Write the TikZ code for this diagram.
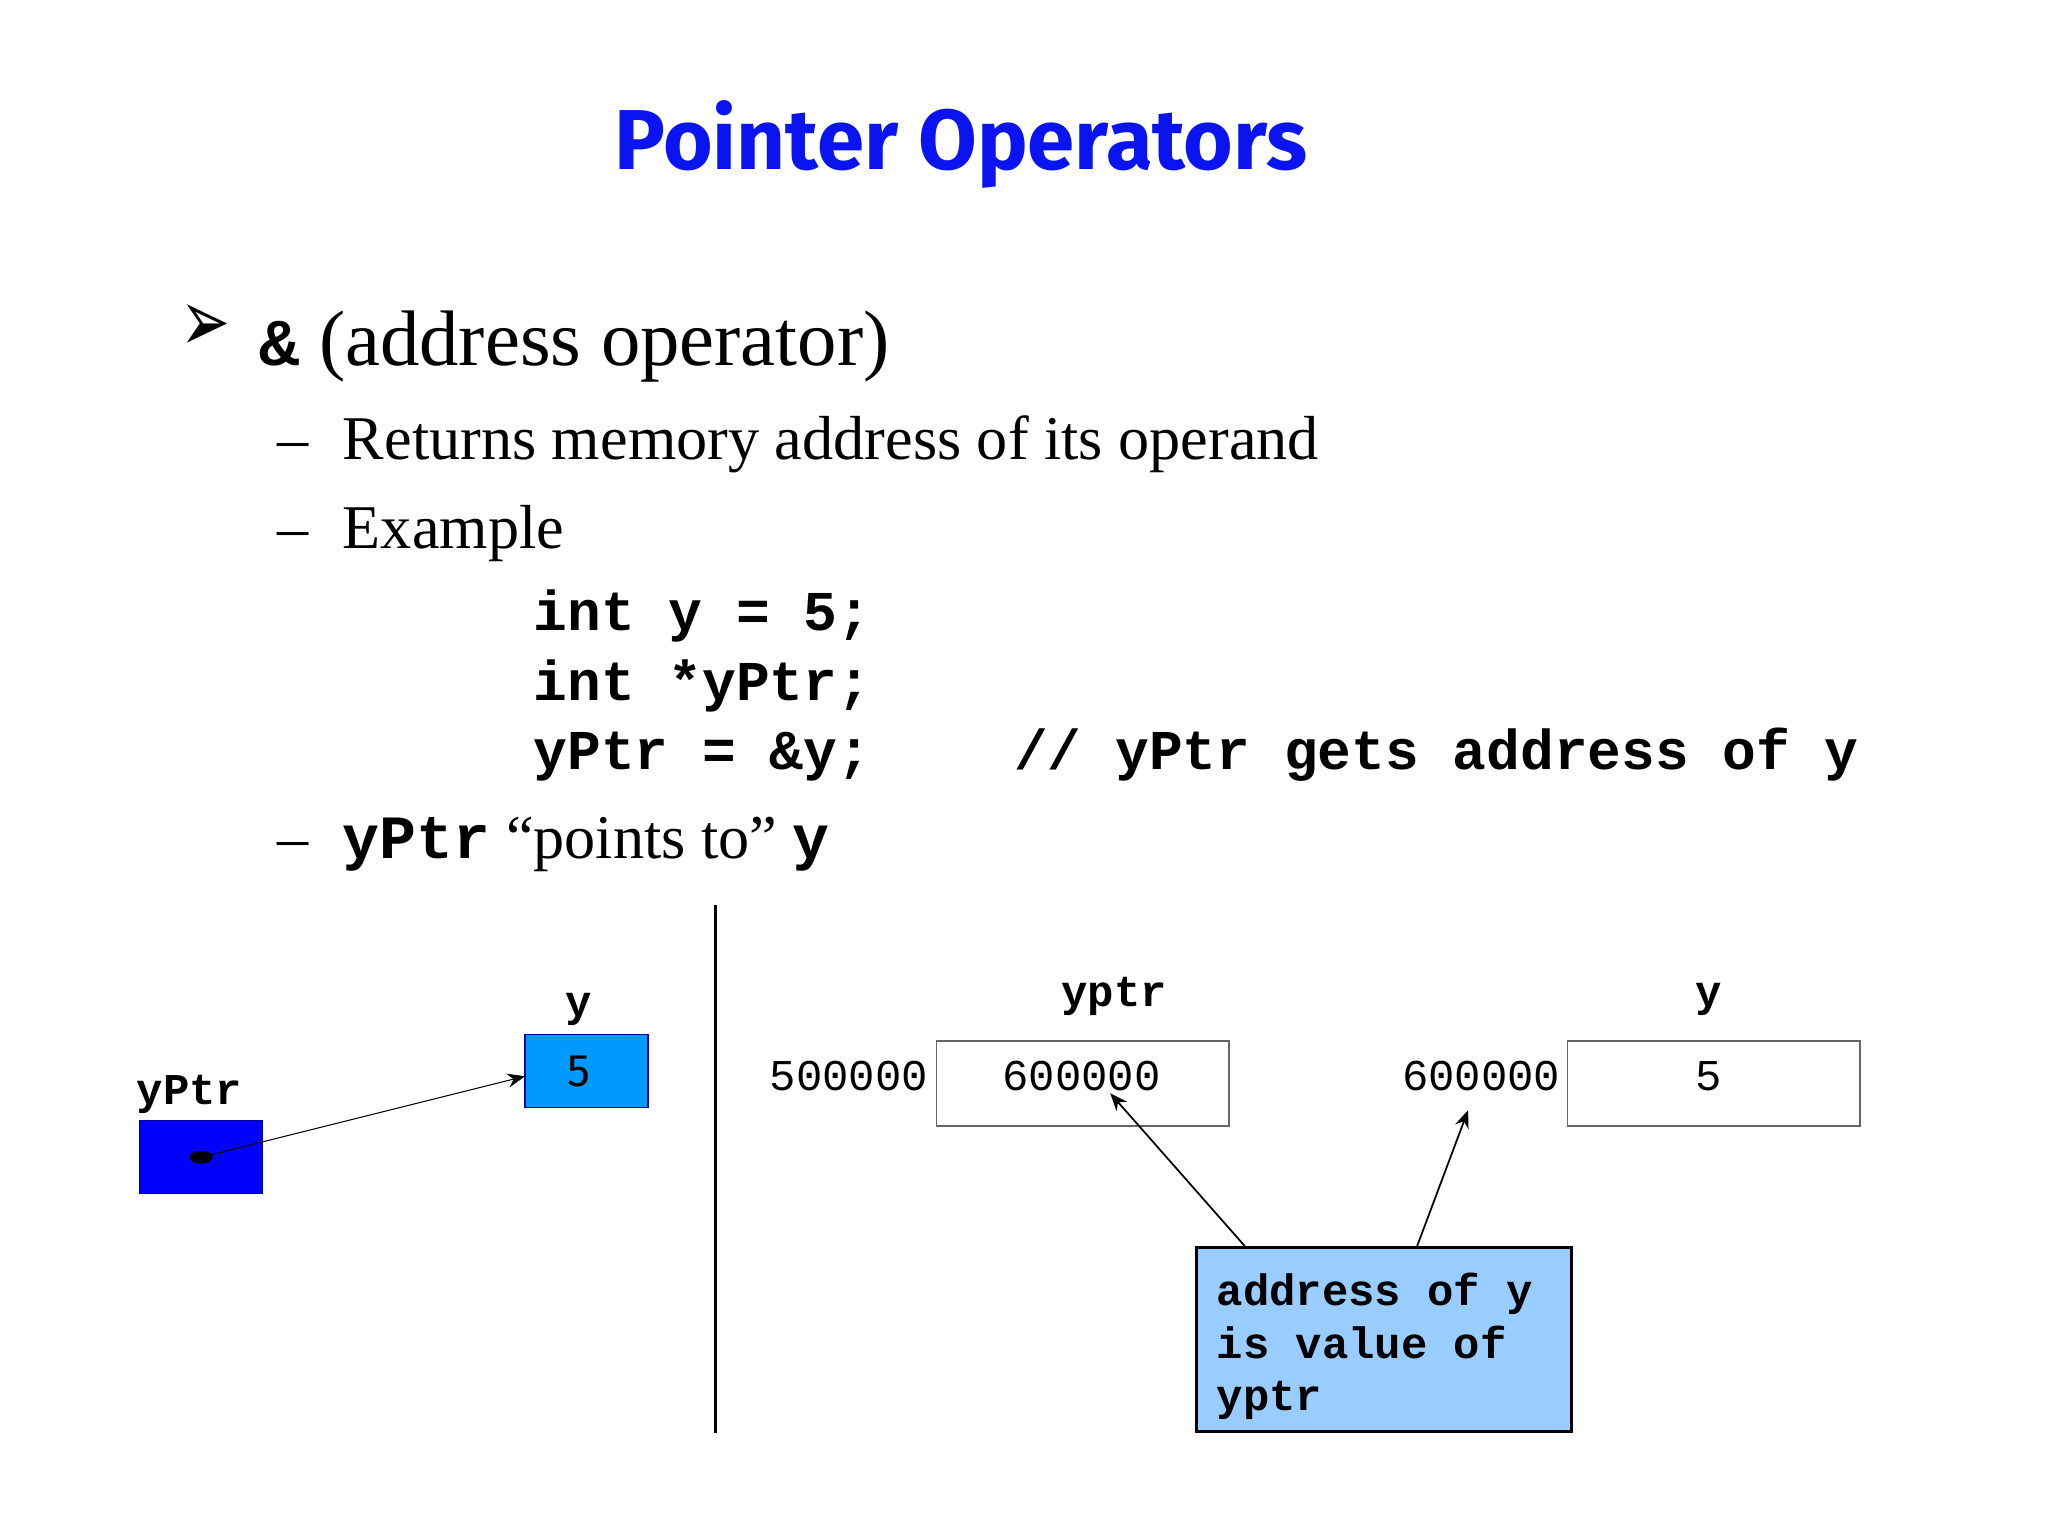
\documentclass[tikz,border=0pt]{standalone}
\usepackage{fontspec}
\setmainfont{Liberation Serif}
\newfontfamily\mono{Liberation Mono}
\newfontfamily\ttl{Fira Sans}
\newfontfamily\dv{DejaVu Sans}
\usetikzlibrary{arrows.meta}
\definecolor{ttlblue}{RGB}{10,20,240}
\definecolor{ybox}{RGB}{0,153,255}
\definecolor{cbox}{RGB}{153,204,255}
\begin{document}
\begin{tikzpicture}[x=0.01306cm,y=-0.01306cm,
  txt/.style={anchor=base west,inner sep=0},
  code/.style={anchor=base west,inner sep=0,font=\mono\bfseries\fontsize{16}{19}\selectfont},
  lab/.style={inner sep=0,font=\mono\bfseries\fontsize{12.5}{15}\selectfont},
  num/.style={inner sep=0,font=\mono\fontsize{12.5}{15}\selectfont},
  cell/.style={draw=black!60,line width=0.4pt},
  ar/.style={-{Stealth[length=5pt,width=4pt]},line width=0.5pt}]
\useasboundingbox (0,0) rectangle (1568,1176);
\node[txt,text=ttlblue,font=\ttl\bfseries\fontsize{24.2}{29}\selectfont] (title) at (470,130) {Pointer Operators};
\node[inner sep=0] (b1) at (157,251) {\dv\fontsize{20}{24}\selectfont\scalebox{0.85}[1.25]{➢}};
\node[txt,font=\fontsize{22.4}{27}\selectfont] (h1) at (198,280) {{\mono\bfseries\fontsize{19}{22}\selectfont \&} (address operator)};
\node[txt,font=\fontsize{17.7}{21}\selectfont] (d1) at (212,352) {–};
\node[txt,font=\fontsize{17.7}{21}\selectfont] (s1) at (262,352) {Returns memory address of its operand};
\node[txt,font=\fontsize{17.7}{21}\selectfont] (d2) at (212,420) {–};
\node[txt,font=\fontsize{17.7}{21}\selectfont] (s2) at (262,420) {Example};
\node[code] (c1) at (408,483) {int y = 5;};
\node[code] (c2) at (408,536) {int *yPtr;};
\node[code] (c3) at (408,589) {yPtr = \&y;};
\node[code] (c4) at (776,589) {// yPtr gets address of y};
\node[txt,font=\fontsize{17.7}{21}\selectfont] (d3) at (212,657) {–};
\node[txt,font=\fontsize{17.7}{21}\selectfont] (s3) at (262,657) {{\mono\bfseries\fontsize{17.5}{21}\selectfont yPtr} “points to” {\mono\bfseries\fontsize{17.5}{21}\selectfont y}};
% left diagram
\draw[fill=blue,draw=blue!60!black] (107,858) rectangle (201,914);
\coordinate (ptr) at (154,886);
\fill[black] (ptr) ellipse (9 and 5);
\draw[fill=ybox,draw=blue!60!black] (402,792) rectangle (496,848);
\node[inner sep=0,font=\ttl\fontsize{13}{15}\selectfont] (five) at (443,820) {5};
\node[lab] (ylab) at (443,773) {y};
\node[lab] (yptrlab) at (145,838) {yPtr};
\coordinate (tgt) at (402,824);
\draw[ar,line width=0.3pt] (ptr) -- (tgt);
\draw[line width=0.8pt] (548,693) -- (548,1097);
% right diagram
\node[lab] (yptr2) at (853,763) {yptr};
\draw[cell] (717,797) rectangle (941,862);
\node[num] (a1) at (650,824) {500000};
\node[num] (v1) at (828,824) {600000};
\node[num] (a2) at (1134,824) {600000};
\draw[cell] (1200,797) rectangle (1424,862);
\node[num] (v2) at (1308,824) {5};
\node[lab] (y2) at (1308,765) {y};
\node[draw=black,fill=cbox,line width=0.8pt,minimum width=287*0.01306cm,minimum height=141*0.01306cm,anchor=north west,inner sep=0] (cb) at (915,954) {};
\node[anchor=north west,inner sep=0,align=left,font=\mono\bfseries\fontsize{12.5}{15}\selectfont] (ct) at (931,974) {address of y\\is value of\\yptr};
\coordinate (e1) at (850,837);
\coordinate (e2) at (1124,850);
\draw[ar] (953,954) -- (e1);
\draw[ar] (1085,954) -- (e2);
\end{tikzpicture}
\end{document}
